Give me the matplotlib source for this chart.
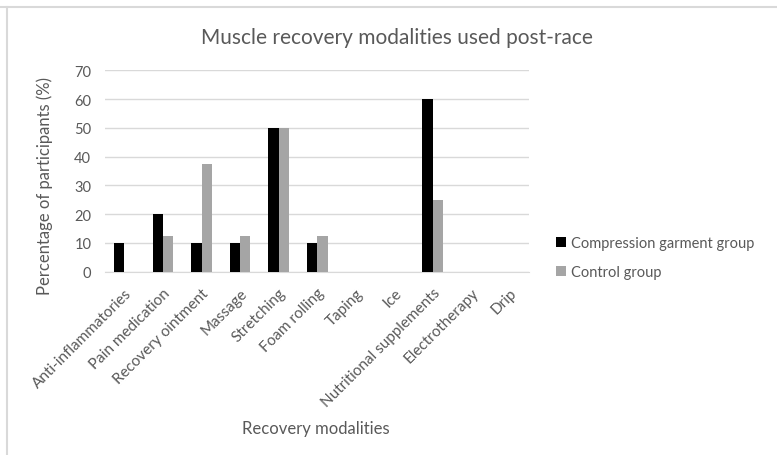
import matplotlib
matplotlib.use("Agg")
import matplotlib.pyplot as plt
import numpy as np
from matplotlib.lines import Line2D

categories = ["Anti-inflammatories", "Pain medication", "Recovery ointment", "Massage",
              "Stretching", "Foam rolling", "Taping", "Ice", "Nutritional supplements",
              "Electrotherapy", "Drip"]
compression = [10, 20, 10, 10, 50, 10, 0, 0, 60, 0, 0]
control = [0, 12.5, 37.5, 12.5, 50, 12.5, 0, 0, 25, 0, 0]
yticks = [0, 10, 20, 30, 40, 50, 60, 70]

plt.rcParams['font.family'] = ['Lato', 'DejaVu Sans']
W, H = 777, 456
fig = plt.figure(figsize=(W/100, H/100), dpi=100)
L, R, T, B = 105.2, 529, 71.3, 272.7
ax = fig.add_axes([L/W, 1-B/H, (R-L)/W, (B-T)/H])

x = np.arange(len(categories))
bw = 0.27
ax.bar(x - bw/2, compression, bw, color='black', label='Compression garment group', zorder=3)
ax.bar(x + bw/2, control, bw, color='#a5a5a5', label='Control group', zorder=3)

ax.set_xlim(-0.5, len(categories) - 0.5)
ax.set_ylim(0, 70)
ax.set_yticks(yticks)
ax.yaxis.grid(True, color='#d9d9d9', linewidth=1, zorder=0)
ax.set_axisbelow(True)
for s in ['top', 'right', 'left']:
    ax.spines[s].set_visible(False)
ax.spines['bottom'].set_color('#d9d9d9')
ax.tick_params(axis='both', length=0, colors='#595959', labelsize=10.5)
ax.tick_params(axis='y', pad=10)
ax.set_xticks(x)
ax.set_xticklabels(categories, rotation=45, ha='right', rotation_mode='anchor', fontsize=11)
ax.tick_params(axis='x', pad=10)

ax.set_ylabel('Percentage of participants (%)', color='#595959', fontsize=12)
ax.yaxis.set_label_coords(-(L-45)/(R-L), (B-186)/(B-T))
ax.yaxis.label.set_va('center')
ax.set_xlabel('Recovery modalities', color='#595959', fontsize=12)
ax.xaxis.set_label_coords((316-L)/(R-L), -(429-B)/(B-T))
ax.xaxis.label.set_va('center')

fig.text(397/W, 1-38/H, 'Muscle recovery modalities used post-race',
         ha='center', va='center', fontsize=15, color='#595959')

leg = fig.legend(loc='upper left', bbox_to_anchor=(543/W, 1-224/H), frameon=False,
                 fontsize=10.5, handlelength=0.7, handleheight=0.7, handletextpad=0.3,
                 labelspacing=1.0, labelcolor='#595959')

fig.add_artist(Line2D([0, 1], [1-8/H, 1-8/H], color='#d9d9d9', lw=1.5, transform=fig.transFigure))
fig.add_artist(Line2D([7/W, 7/W], [0, 1-8/H], color='#d9d9d9', lw=1.5, transform=fig.transFigure))

fig.savefig('out.png', dpi=100)
